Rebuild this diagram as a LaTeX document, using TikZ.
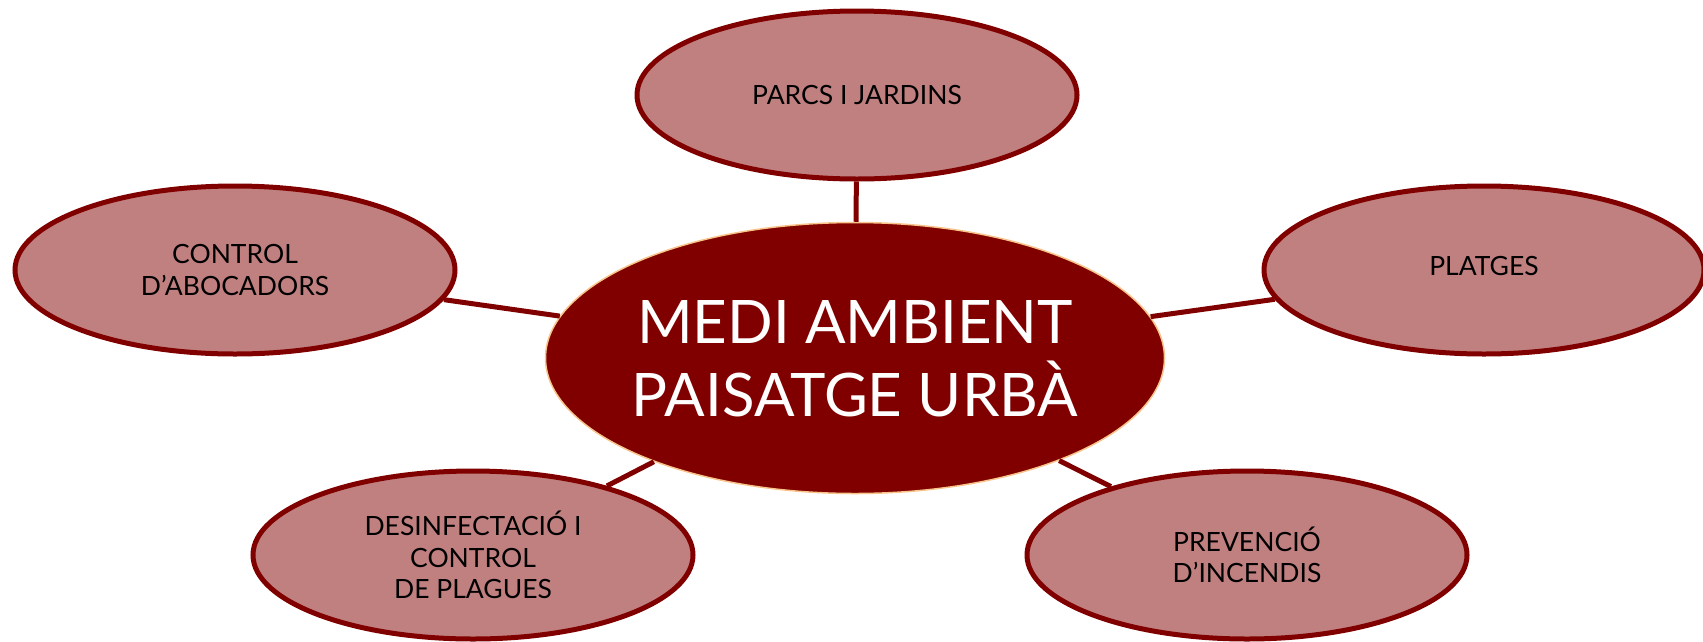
\documentclass[tikz,border=0pt]{standalone}
\usepackage{fontspec}
\setmainfont{Lato}
\usetikzlibrary{shapes.geometric}
\definecolor{dred}{RGB}{128,0,0}
\definecolor{pinkfill}{RGB}{193,128,128}
\definecolor{rim}{RGB}{248,196,140}
\begin{document}
\begin{tikzpicture}[x=1pt,y=-1pt,
  leaf/.style={ellipse,draw=dred,line width=5pt,fill=pinkfill,inner sep=0pt,
    minimum width=440pt,minimum height=168pt,align=center,text=black,
    font=\fontsize{26.5}{31.5}\selectfont},
  hub/.style={ellipse,draw=rim,line width=1.5pt,fill=dred,inner sep=0pt,
    minimum width=619pt,minimum height=271pt},
  hubtext/.style={align=center,text=white,inner sep=0pt,
    font=\fontsize{60}{73}\selectfont},
  conn/.style={draw=dred,line width=5pt}]
\useasboundingbox (0,0) rectangle (1703,641);
\node[hub] (c) at (855,358) {};
\node[hubtext] (ct) at (855,359) {MEDI AMBIENT\\PAISATGE URBÀ};
\node[leaf] (top) at (857,95) {PARCS I JARDINS};
\node[leaf] (left) at (235,270) {CONTROL\\D’ABOCADORS};
\node[leaf] (right) at (1484,270) {\raisebox{9pt}{PLATGES}};
\node[leaf] (bl) at (473,555) {\raisebox{0pt}{}DESINFECTACIÓ I\\CONTROL\\DE PLAGUES};
\node[leaf] (br) at (1247,555) {PREVENCIÓ\\D’INCENDIS};
\draw[conn] (c) -- (top);
\draw[conn] (c) -- (left);
\draw[conn] (c) -- (right);
\draw[conn] (c) -- (bl);
\draw[conn] (c) -- (br);
\end{tikzpicture}
\end{document}
